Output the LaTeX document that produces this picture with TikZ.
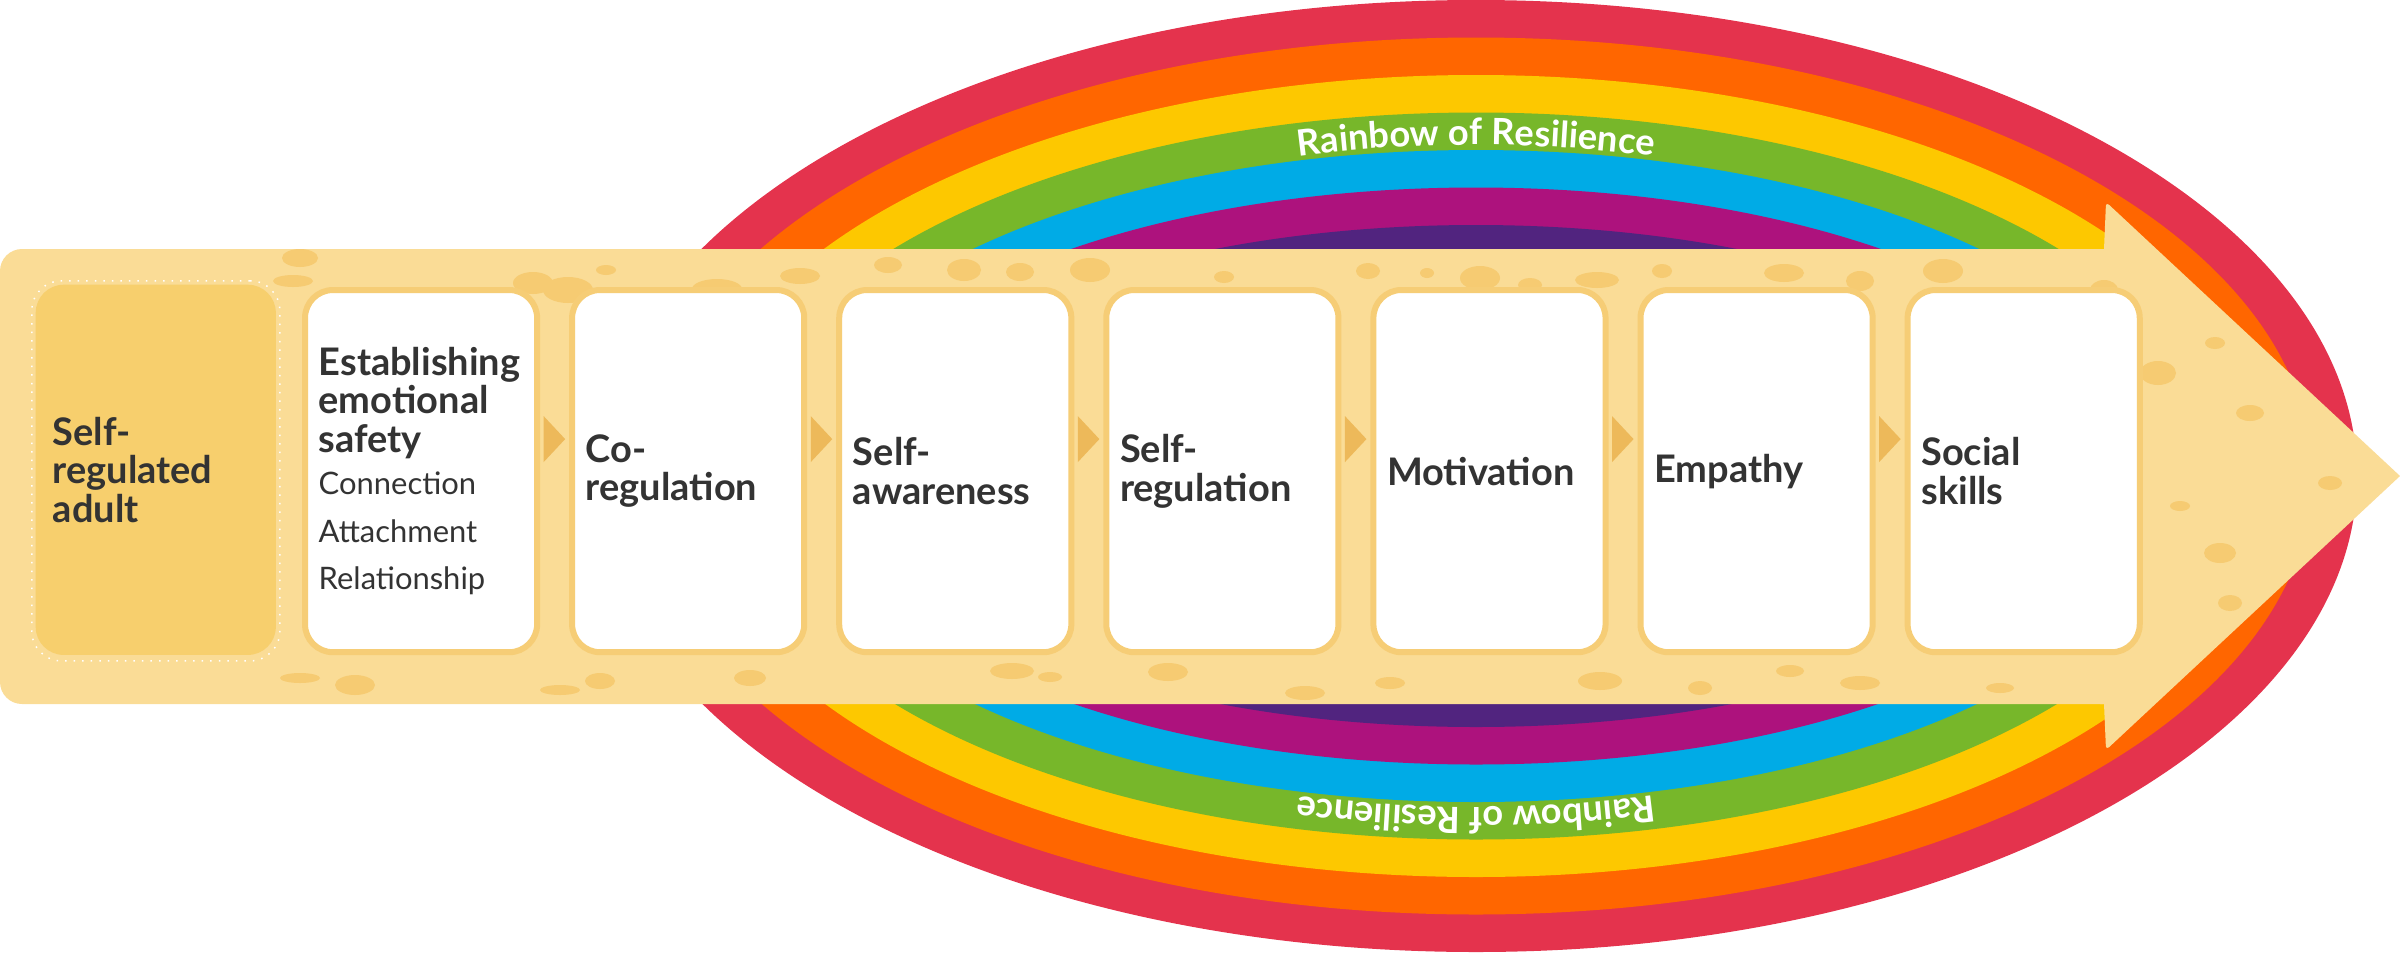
\documentclass[tikz,border=0pt]{standalone}
\usepackage{fontspec}
\setmainfont{Lato}
\usetikzlibrary{decorations.text}
\definecolor{rred}{HTML}{E4334D}
\definecolor{rorange}{HTML}{FF6600}
\definecolor{ryellow}{HTML}{FDC800}
\definecolor{rgreen}{HTML}{77B72A}
\definecolor{rblue}{HTML}{00ABE6}
\definecolor{rmagenta}{HTML}{AD127D}
\definecolor{rpurple}{HTML}{51247F}
\definecolor{arrowbody}{HTML}{FADC96}
\definecolor{spot}{HTML}{F6CB72}
\definecolor{cardedge}{HTML}{F6CD76}
\definecolor{adultbox}{HTML}{F7CF6D}
\definecolor{tri}{HTML}{EDB95A}
\definecolor{txt}{HTML}{333333}
\begin{document}
\begin{tikzpicture}[x=0.01cm,y=0.01cm,
  card/.style={draw=cardedge,line width=0.06cm,fill=white,rounded corners=0.28cm,minimum width=2.32cm,minimum height=3.62cm,inner sep=0,anchor=north west},
  ttl/.style={anchor=west,align=left,text=txt,font=\bfseries\fontsize{10.8}{11}\selectfont,inner sep=0},
  tri/.style={fill=tri},
  spot/.style={fill=spot}]
\useasboundingbox (0,0) rectangle (2400,953);
% rainbow
\foreach \c [count=\i from 0] in {rred,rorange,ryellow,rgreen,rblue,rmagenta,rpurple}{
  \fill[\c] (1476,477) ellipse [x radius={881-45*\i}, y radius={476-37.5*\i}];
}
\path[decorate,decoration={text along path,text align=center,text color=white,
  text={|\bfseries\fontsize{10.3}{12}\selectfont|Rainbow of Resilience}}]
  (884.5,642.5) arc[start angle=150,end angle=30,x radius=683,y radius=331];
\path[decorate,decoration={text along path,text align=center,text color=white,
  text={|\bfseries\fontsize{10.3}{12}\selectfont|Rainbow of Resilience}}]
  (2067.5,311.5) arc[start angle=-30,end angle=-150,x radius=683,y radius=331];
% arrow
\fill[arrowbody,rounded corners=0.22cm] (2104,704) -- (0,704) -- (0,249) -- (2104,249);
\fill[arrowbody] (2100,704) -- (2104,704) [rounded corners=0.04cm]-- (2106,751) [sharp corners]-- (2400,477) [rounded corners=0.04cm]-- (2106,203) [sharp corners]-- (2104,249) -- (2100,249) -- cycle;
% spots
\foreach \x/\y/\a/\b in {300/695/18/9, 293/672/20/6, 533/670/20/11, 568/663/25/13, 606/683/10/5, 717/664/25/10, 800/677/20/8, 888/688/14/8, 964/683/17/11, 1020/681/14/9, 1090/683/20/12, 1224/676/10/6, 1368/682/12/8, 1427/680/7/5, 1480/675/20/12, 1530/668/12/7, 1597/673/22/8, 1662/682/10/7, 1784/680/20/9, 1860/672/14/10, 1943/682/20/12, 2104/663/14/10, 2158/580/18/12, 2250/540/14/8, 2180/447/10/5, 2220/400/16/10, 2230/350/12/8, 2215/610/10/6, 2330/470/12/7,
 300/275/20/5, 355/268/20/10, 560/263/20/5, 600/272/15/8, 750/275/16/8, 1012/282/22/8, 1050/276/12/5, 1168/281/20/9, 1305/260/20/7, 1390/270/15/6, 1600/272/22/9, 1700/265/12/7, 1790/282/14/6, 1860/270/20/7, 2000/265/14/5}{
  \fill[spot] (\x,\y) ellipse [x radius=\a, y radius=\b];
}
% adult box
\node[draw=white,dotted,line width=0.015cm,rounded corners=0.3cm,minimum width=2.48cm,minimum height=3.80cm,inner sep=0,anchor=north west] (adultframe) at (31,673) {};
\node[fill=adultbox,rounded corners=0.28cm,minimum width=2.40cm,minimum height=3.70cm,inner sep=0,anchor=north west] (adult) at (35,669) {};
\node[ttl] (adultt) at ([xshift=0.17cm]adult.west) {Self-\\regulated\\adult};
% cards
\foreach \i/\n in {0/c1,1/c2,2/c3,3/c4,4/c5,5/c6,6/c7}{
  \node[card] (\n) at ({302+267.1*\i},666) {};
}
\foreach \a/\b in {c1/c2,c2/c3,c3/c4,c4/c5,c5/c6,c6/c7}{
  \fill[tri] ([xshift=0.035cm,yshift=0.09cm]\a.east) -- ([xshift=0.25cm,yshift=0.32cm]\a.east) -- ([xshift=0.035cm,yshift=0.55cm]\a.east) -- cycle;
}
\node[ttl] (t1) at ([xshift=0.16cm]c1.west) {Establishing\\emotional\\safety\\[1pt]{\mdseries\fontsize{8.8}{12.8}\selectfont Connection}\\[2.5pt]{\mdseries\fontsize{8.8}{12.8}\selectfont Attachment}\\[2.5pt]{\mdseries\fontsize{8.8}{12.8}\selectfont Relationship}};
\node[ttl] (t2) at ([xshift=0.16cm]c2.west) {Co-\\regulation};
\node[ttl] (t3) at ([xshift=0.16cm]c3.west) {Self-\\awareness};
\node[ttl] (t4) at ([xshift=0.16cm]c4.west) {Self-\\regulation};
\node[ttl] (t5) at ([xshift=0.16cm]c5.west) {Motivation};
\node[ttl] (t6) at ([xshift=0.16cm]c6.west) {Empathy};
\node[ttl] (t7) at ([xshift=0.16cm]c7.west) {Social\\skills};
\end{tikzpicture}
\end{document}
